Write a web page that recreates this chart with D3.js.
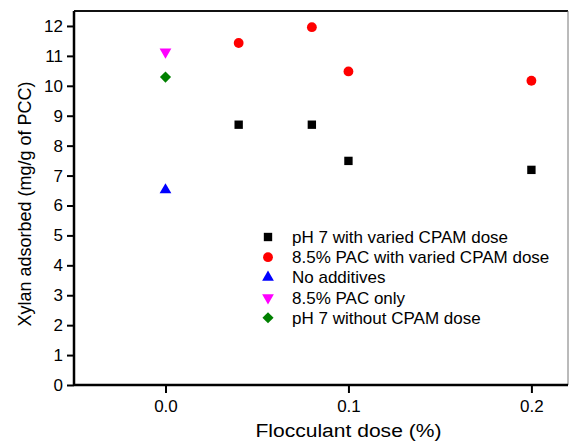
<!DOCTYPE html>
<html>
<head>
<meta charset="utf-8">
<script src="https://cdn.jsdelivr.net/npm/d3@7"></script>
<style>
  html, body { margin: 0; padding: 0; background: #fff; }
  svg { display: block; font-family: "Liberation Sans", Arial, sans-serif; }
</style>
</head>
<body>
<svg id="chart" width="569" height="445"></svg>
<script>
// Xylan adsorption on PCC for different flocculant treatments
const cpamDose = [0.04, 0.08, 0.1, 0.2];
const ph7VariedCpam = [8.70, 8.70, 7.49, 7.19];
const pacVariedCpam = [11.43, 11.96, 10.48, 10.17];
const noAdditives = [{ dose: 0, value: 6.52 }];
const pacOnly = [{ dose: 0, value: 11.13 }];
const ph7NoCpam = [{ dose: 0, value: 10.29 }];

const xTicks = [0, 0.1, 0.2];
const yTicks = [0, 1, 2, 3, 4, 5, 6, 7, 8, 9, 10, 11, 12];

const seriesNames = [
  "pH 7 with varied CPAM dose",
  "8.5% PAC with varied CPAM dose",
  "No additives",
  "8.5% PAC only",
  "pH 7 without CPAM dose"
];

const svg = d3.select("#chart");
const margin = { left: 74, right: 568, top: 11, bottom: 385 };

const x = d3.scaleLinear().domain([-0.05, 0.22]).range([margin.left, margin.right]);
const y = d3.scaleLinear().domain([0, 12.5]).range([margin.bottom, margin.top]);

// Frame: top and right edges
svg.append("line")
  .attr("x1", margin.left).attr("x2", margin.right)
  .attr("y1", margin.top).attr("y2", margin.top)
  .attr("stroke", "#111").attr("stroke-width", 2);
svg.append("line")
  .attr("x1", margin.right).attr("x2", margin.right)
  .attr("y1", margin.top).attr("y2", margin.bottom)
  .attr("stroke", "#777").attr("stroke-width", 1);

// Axes
const xAxis = d3.axisBottom(x).tickValues(xTicks).tickFormat(d3.format(".1f"))
  .tickSize(8).tickSizeOuter(0).tickPadding(7);
const yAxis = d3.axisLeft(y).tickValues(yTicks).tickFormat(d3.format("d"))
  .tickSize(7).tickSizeOuter(0).tickPadding(4);

const gx = svg.append("g").attr("transform", `translate(0,${margin.bottom})`).call(xAxis);
const gy = svg.append("g").attr("transform", `translate(${margin.left},0)`).call(yAxis);

[gx, gy].forEach(g => {
  g.select(".domain").attr("stroke", "#000").attr("stroke-width", 2.5);
  g.selectAll(".tick line").attr("stroke", "#000").attr("stroke-width", 2);
  g.selectAll(".tick text").attr("fill", "#000").style("font-size", "17px")
    .style("font-family", "'Liberation Sans', Arial, sans-serif");
});
gx.select(".domain").attr("d", `M${margin.left},0H${margin.right}`);
gy.select(".domain").attr("d", `M0,${margin.bottom + 1}V${margin.top}`);

// Axis titles
svg.append("text")
  .attr("x", x(0.1)).attr("y", 437)
  .attr("text-anchor", "middle")
  .attr("textLength", 186)
  .attr("lengthAdjust", "spacingAndGlyphs")
  .style("font-size", "18px")
  .text("Flocculant dose (%)");

svg.append("text")
  .attr("transform", `translate(31,204) rotate(-90)`)
  .attr("text-anchor", "middle")
  .style("font-size", "18px")
  .text("Xylan adsorbed (mg/g of PCC)");

// Marker shapes
const sym = {
  square: d3.symbol().type(d3.symbolSquare).size(70),
  circle: d3.symbol().type(d3.symbolCircle).size(76),
  triangle: d3.symbol().type(d3.symbolTriangle).size(60),
  diamond: d3.symbol().type(d3.symbolSquare).size(62)
};

const styles = [
  { path: sym.square(), color: "#000000", rot: 0 },
  { path: sym.circle(), color: "#ff0000", rot: 0 },
  { path: sym.triangle(), color: "#0000ff", rot: 0 },
  { path: sym.triangle(), color: "#ff00ff", rot: 180 },
  { path: sym.diamond(), color: "#008000", rot: 45 }
];

const seriesData = [
  cpamDose.map((d, i) => ({ dose: d, value: ph7VariedCpam[i] })),
  cpamDose.map((d, i) => ({ dose: d, value: pacVariedCpam[i] })),
  noAdditives,
  pacOnly,
  ph7NoCpam
];

seriesData.forEach((data, si) => {
  const st = styles[si];
  svg.append("g").selectAll("path")
    .data(data)
    .join("path")
    .attr("d", st.path)
    .attr("fill", st.color)
    .attr("transform", d => `translate(${x(d.dose)},${y(d.value)}) rotate(${st.rot})`);
});

// Legend
const legend = svg.append("g").attr("transform", "translate(268,237)");
seriesNames.forEach((name, i) => {
  const row = legend.append("g").attr("transform", `translate(0,${i * 20.2})`);
  row.append("path")
    .attr("d", styles[i].path)
    .attr("fill", styles[i].color)
    .attr("transform", `rotate(${styles[i].rot})`);
  row.append("text")
    .attr("x", 24).attr("y", 6)
    .style("font-size", "17px")
    .text(name);
});
</script>
</body>
</html>
